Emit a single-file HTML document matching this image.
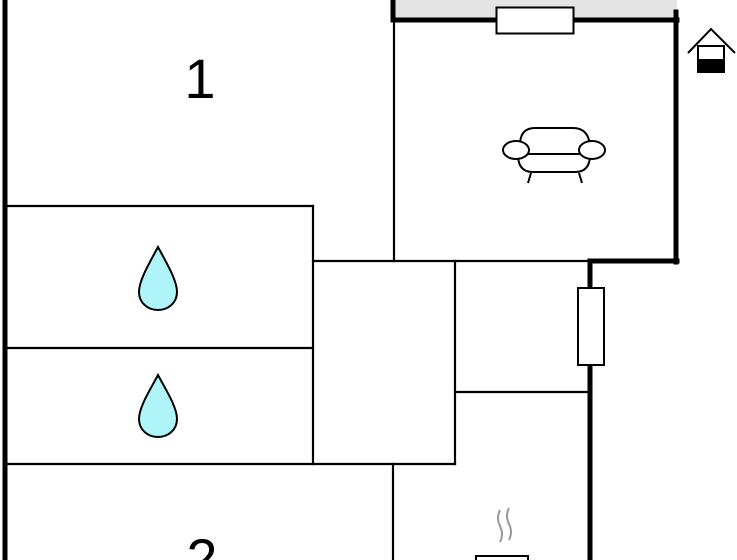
<!DOCTYPE html>
<html><head><style>html,body{margin:0;padding:0;background:#fff;overflow:hidden;width:737px;height:560px}</style></head>
<body>
<svg width="737" height="560" viewBox="0 0 737 560" xmlns="http://www.w3.org/2000/svg" style="display:block;overflow:hidden">
<rect x="393" y="0" width="284" height="20" fill="#e4e4e4"/>
<g stroke="#000" fill="none" stroke-linecap="square">
<line x1="5" y1="0" x2="5" y2="560" stroke-width="5"/>
<line x1="393" y1="0" x2="393" y2="20" stroke-width="5"/>
<line x1="393" y1="20" x2="677" y2="20" stroke-width="5"/>
<line x1="676" y1="12" x2="676" y2="262" stroke-width="5"/>
<line x1="590" y1="261" x2="677" y2="261" stroke-width="5"/>
<line x1="590" y1="261" x2="590" y2="560" stroke-width="5"/>
<g stroke-width="2.2">
<line x1="394" y1="20" x2="394" y2="261"/>
<line x1="313" y1="261" x2="590" y2="261"/>
<line x1="5" y1="206" x2="313" y2="206"/>
<line x1="313" y1="206" x2="313" y2="464"/>
<line x1="5" y1="348" x2="313" y2="348"/>
<line x1="5" y1="464" x2="455" y2="464"/>
<line x1="455" y1="261" x2="455" y2="464"/>
<line x1="455" y1="392" x2="590" y2="392"/>
<line x1="393" y1="464" x2="393" y2="560"/>
</g>
</g>
<rect x="496.5" y="7.5" width="77" height="26" fill="#fff" stroke="#000" stroke-width="2"/>
<rect x="578" y="288" width="26" height="77" fill="#fff" stroke="#000" stroke-width="2"/>
<g fill="#aef4f8" stroke="#000" stroke-width="2">
<path d="M158 247 C150 262 139 280 139 292 C139 303 148 310 158 310 C168 310 177 303 177 292 C177 280 166 262 158 247Z"/>
<path d="M158 375 C150 390 139 407 139 419 C139 430 148 437 158 437 C168 437 177 430 177 419 C177 407 166 390 158 375Z"/>
</g>
<g stroke="#000" stroke-width="2" fill="#fff">
<path d="M520 145 Q520 128 535 128 L573 128 Q588 128 590 145"/>
<path d="M518 155 Q518 172 533 172 L575 172 Q590 172 590 155"/>
<line x1="528" y1="154" x2="580" y2="154"/>
<ellipse cx="516" cy="150" rx="13" ry="9"/>
<ellipse cx="592" cy="150" rx="13" ry="9"/>
<line x1="531" y1="173" x2="528" y2="183"/>
<line x1="579" y1="173" x2="582" y2="183"/>
</g>
<g stroke="#000" stroke-width="2" fill="none">
<path d="M688 53 L711 29 L735 53"/>
<rect x="698" y="46" width="26" height="26" fill="#fff"/>
</g>
<rect x="698" y="59" width="26" height="13" fill="#000"/>
<g stroke="#999" stroke-width="2" fill="none">
<path d="M500 510 Q496 518 500 526 Q504 534 500 542"/>
<path d="M509 508 Q505 516 509 524 Q513 532 509 540"/>
</g>
<rect x="476" y="556" width="52" height="10" fill="#fff" stroke="#000" stroke-width="2"/>
<text x="200" y="98" font-family="Liberation Sans, sans-serif" font-size="56" text-anchor="middle">1</text>
<text x="202" y="578" font-family="Liberation Sans, sans-serif" font-size="56" text-anchor="middle">2</text>
</svg>
</body></html>
